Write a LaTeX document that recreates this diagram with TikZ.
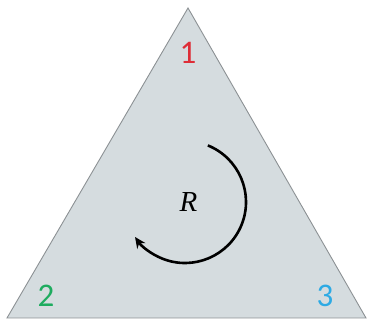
\documentclass[tikz,border=0pt]{standalone}
\usepackage{fontspec}
\newfontfamily\digitfont{Carlito}
\newfontfamily\symfont{Liberation Serif}
\usepackage{tikz}
\usetikzlibrary{arrows.meta, calc}
\definecolor{myred}{RGB}{222,45,55}
\definecolor{mygreen}{RGB}{30,172,95}
\definecolor{myblue}{RGB}{45,170,228}
\definecolor{mygrey}{RGB}{140,145,148}
\definecolor{hdrgrey}{RGB}{213,220,223}
\tikzset{
  face/.style={draw=mygrey, fill=hdrgrey, line width=0.9pt, line join=miter},
  vlabel/.style={font=\digitfont\fontsize{33}{33}\selectfont, inner sep=0pt},
  rotarrow/.style={-{Stealth[length=11pt,width=10pt]}, line width=2.6pt, color=black}
}

\begin{document}
\begin{tikzpicture}[x=1pt, y=1pt]
  \useasboundingbox (0,0) rectangle (367,321);
  % corners of the triangle
  \coordinate (top) at (188,313);
  \coordinate (left) at (7,3);
  \coordinate (right) at (366,3);
  \coordinate (ctr) at (185,119);
  \draw[face] (top) -- (left) -- (right) -- cycle;
  \node[vlabel, text=myred] (one) at (188,268) {1};
  \node[vlabel, text=mygreen] (two) at (46,25) {2};
  \node[vlabel, text=myblue] (three) at (325,25) {3};
  \node[font=\symfont\fontsize{29}{29}\selectfont\itshape, inner sep=0pt] (rot) at (188.5,118.5) {R};
  \draw[rotarrow] ($(ctr)+(68:61)$) arc[start angle=68, end angle=-145, radius=61];
\end{tikzpicture}
\end{document}
